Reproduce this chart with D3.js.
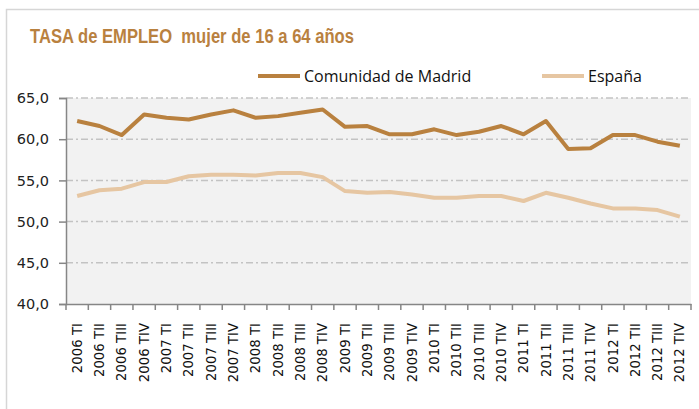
<!DOCTYPE html>
<html>
<head>
<meta charset="utf-8">
<script src="https://cdn.jsdelivr.net/npm/d3@7"></script>
<style>
  html, body { margin: 0; padding: 0; background: #fff; }
  svg { display: block; }
</style>
</head>
<body>
<div id="chart"></div>
<script>
var quarters = ["2006 TI","2006 TII","2006 TIII","2006 TIV","2007 TI","2007 TII","2007 TIII","2007 TIV",
    "2008 TI","2008 TII","2008 TIII","2008 TIV","2009 TI","2009 TII","2009 TIII","2009 TIV",
    "2010 TI","2010 TII","2010 TIII","2010 TIV","2011 TI","2011 TII","2011 TIII","2011 TIV",
    "2012 TI","2012 TII","2012 TIII","2012 TIV"];
var madrid = [62.2,61.6,60.5,63.0,62.6,62.4,63.0,63.5,62.6,62.8,63.2,63.6,61.5,61.6,60.6,60.6,
    61.2,60.5,60.9,61.6,60.6,62.2,58.8,58.9,60.5,60.5,59.7,59.2];
var espana = [53.1,53.8,54.0,54.8,54.8,55.5,55.7,55.7,55.6,55.9,55.9,55.4,53.7,53.5,53.6,53.3,
    52.9,52.9,53.1,53.1,52.5,53.5,52.9,52.2,51.6,51.6,51.4,50.6];
var yTicks = [40,45,50,55,60,65];
var seriesNames = ["Comunidad de Madrid", "España"];
var colors = ["#b9813f", "#e6c6a2"];

var width = 699, height = 409;
var margin = {left: 66, right: 8, top: 98, bottom: 105};

var svg = d3.select("#chart").append("svg")
    .attr("width", width)
    .attr("height", height);

// frame
svg.append("path")
    .attr("d", "M6.5,409 V9.5 H699")
    .attr("fill", "none")
    .attr("stroke", "#d6d6d6")
    .attr("stroke-width", 1.5);

// no narrow font installed, so squeeze the title to its width
svg.append("text")
    .attr("x", 30)
    .attr("y", 43)
    .attr("fill", "#b9813f")
    .attr("textLength", 324)
    .attr("lengthAdjust", "spacingAndGlyphs")
    .style("font-family", "'Liberation Sans', Arial, sans-serif")
    .style("font-weight", "bold")
    .style("font-size", "19.5px")
    .style("white-space", "pre")
    .text("TASA de EMPLEO  mujer de 16 a 64 años");

var x = d3.scaleBand()
    .domain(quarters)
    .range([margin.left, width - margin.right]);

var y = d3.scaleLinear()
    .domain([40, 65])
    .range([height - margin.bottom, margin.top]);

var plot = svg.append("g");

plot.append("rect")
    .attr("x", margin.left)
    .attr("y", margin.top)
    .attr("width", width - margin.right - margin.left)
    .attr("height", height - margin.bottom - margin.top)
    .attr("fill", "#f2f2f2");

plot.selectAll(".grid")
    .data(yTicks.filter(function(d) { return d > 40; }))
    .enter().append("line")
    .attr("class", "grid")
    .attr("x1", margin.left)
    .attr("x2", width - margin.right)
    .attr("y1", function(d) { return y(d); })
    .attr("y2", function(d) { return y(d); })
    .attr("stroke", "#c3c3c3")
    .attr("stroke-width", 1.5)
    .attr("stroke-dasharray", "7,3,2,3");

// axes
var yAxis = d3.axisLeft(y)
    .tickValues(yTicks)
    .tickSize(7)
    .tickPadding(10)
    .tickFormat(function(d) { return d3.format(".1f")(d).replace(".", ","); });

var gY = svg.append("g")
    .attr("transform", "translate(" + margin.left + ",0)")
    .call(yAxis);

gY.selectAll("text")
    .attr("fill", "#222")
    .style("font-family", "'DejaVu Sans', sans-serif")
    .style("font-size", "14.5px");

var xAxis = d3.axisBottom(x)
    .tickSize(0)
    .tickPadding(0);

var gX = svg.append("g")
    .attr("transform", "translate(0," + (height - margin.bottom) + ")")
    .call(xAxis);

// tick marks between categories
var bounds = quarters.map(function(q) { return x(q); }).concat([x.range()[1]]);
gX.selectAll(".sep")
    .data(bounds)
    .enter().append("line")
    .attr("class", "sep")
    .attr("x1", function(d) { return d; })
    .attr("x2", function(d) { return d; })
    .attr("y1", 0)
    .attr("y2", 6)
    .attr("stroke", "#868686")
    .attr("stroke-width", 1.5);

gX.selectAll(".tick text")
    .attr("transform", "translate(0,19) rotate(-90)")
    .attr("text-anchor", "end")
    .attr("x", 0)
    .attr("y", 0)
    .attr("dy", "0.35em")
    .attr("fill", "#111")
    .style("font-family", "'DejaVu Sans', sans-serif")
    .style("font-size", "13.3px");

svg.selectAll(".domain, .tick line")
    .attr("stroke", "#868686")
    .attr("stroke-width", 1.5);

// lines
var line = d3.line()
    .x(function(d, i) { return x(quarters[i]) + x.bandwidth() / 2; })
    .y(function(d) { return y(d); });

[espana, madrid].forEach(function(s, k) {
    plot.append("path")
        .datum(s)
        .attr("fill", "none")
        .attr("stroke", colors[1 - k])
        .attr("stroke-width", 4)
        .attr("stroke-linejoin", "round")
        .attr("d", line);
});

// legend
var legendX = [258, 542];
var legend = svg.selectAll(".legend")
    .data(seriesNames)
    .enter().append("g")
    .attr("class", "legend")
    .attr("transform", function(d, i) { return "translate(" + legendX[i] + ",76)"; });

legend.append("line")
    .attr("x1", 0)
    .attr("x2", 42)
    .attr("stroke", function(d, i) { return colors[i]; })
    .attr("stroke-width", 4);

legend.append("text")
    .attr("x", 46)
    .attr("dy", "0.35em")
    .attr("fill", "#111")
    .style("font-family", "'Open Sans', sans-serif")
    .style("font-size", "16px")
    .text(function(d) { return d; });
</script>
</body>
</html>
